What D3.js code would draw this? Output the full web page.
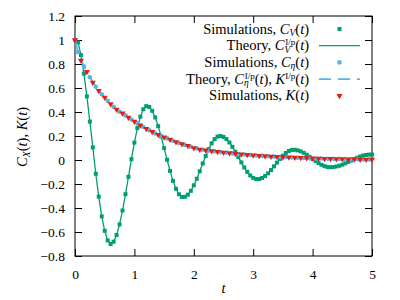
<!DOCTYPE html>
<html>
<head>
<meta charset="utf-8">
<script src="https://cdn.jsdelivr.net/npm/d3@7"></script>
<style>
  body { margin: 0; background: #fff; }
  svg text { font-family: "Liberation Serif", "Times New Roman", "DejaVu Serif", serif !important; fill: #000; }
</style>
</head>
<body>
<div id="chart"></div>
<script>
// sampling of the C_V curve (every 0.05 in t)
var cvStep = 0.05;
var cvValues = [1.0, 0.98, 0.875, 0.72, 0.53, 0.32, 0.105, -0.115, -0.305, -0.47,
    -0.59, -0.67, -0.70, -0.681, -0.625, -0.537, -0.421, -0.285, -0.14, 0.007,
    0.145, 0.266, 0.361, 0.423, 0.449, 0.442, 0.41, 0.355, 0.282, 0.195,
    0.099, 0.002, -0.091, -0.174, -0.24, -0.286, -0.308, -0.307, -0.289, -0.257,
    -0.211, -0.156, -0.094, -0.029, 0.033, 0.091, 0.139, 0.174, 0.195, 0.2,
    0.192, 0.174, 0.146, 0.11, 0.069, 0.024, -0.02, -0.062, -0.099, -0.129,
    -0.149, -0.159, -0.159, -0.15, -0.134, -0.111, -0.084, -0.053, -0.022, 0.009,
    0.036, 0.059, 0.075, 0.084, 0.085, 0.08, 0.072, 0.06, 0.044, 0.027,
    0.009, -0.009, -0.026, -0.04, -0.051, -0.058, -0.06, -0.059, -0.054, -0.048,
    -0.039, -0.028, -0.016, -0.004, 0.008, 0.019, 0.029, 0.037, 0.042, 0.045,
    0.045];

// K(t), every 0.1 in t
var kStep = 0.1;
var kValues = [1.0, 0.83, 0.735, 0.645, 0.578, 0.52, 0.467, 0.42, 0.39, 0.355,
    0.32, 0.29, 0.26, 0.235, 0.21, 0.19, 0.17, 0.15, 0.133, 0.118,
    0.1, 0.088, 0.081, 0.075, 0.069, 0.063, 0.058, 0.053, 0.048, 0.044,
    0.04, 0.036, 0.033, 0.03, 0.027, 0.024, 0.022, 0.02, 0.018, 0.016,
    0.014, 0.013, 0.011, 0.01, 0.009, 0.008, 0.007, 0.006, 0.005, 0.005,
    0.004];

// C_eta(t)
var etaTimes = [0, 0.05, 0.15, 0.25, 0.35, 0.45, 0.55, 0.65, 0.75, 0.85, 0.95,
    1.05, 1.15, 1.25, 1.35, 1.45, 1.55, 1.65, 1.75, 1.85, 1.95,
    2.05, 2.15, 2.25, 2.35, 2.45, 2.55, 2.65, 2.75, 2.85, 2.95,
    3.05, 3.15, 3.25, 3.35, 3.45, 3.55, 3.65, 3.75, 3.85, 3.95,
    4.05, 4.15, 4.25, 4.35, 4.45, 4.55, 4.65, 4.75, 4.85, 4.95];
var etaValues = [1.0, 0.9, 0.78, 0.69, 0.61, 0.548, 0.493, 0.443, 0.402, 0.372, 0.337,
    0.305, 0.275, 0.248, 0.222, 0.2, 0.18, 0.16, 0.141, 0.125, 0.11,
    0.097, 0.085, 0.078, 0.072, 0.066, 0.06, 0.055, 0.05, 0.046, 0.042,
    0.038, 0.034, 0.031, 0.028, 0.025, 0.023, 0.021, 0.019, 0.017, 0.015,
    0.013, 0.012, 0.011, 0.01, 0.009, 0.008, 0.007, 0.006, 0.005, 0.004];

var xTicks = [0, 1, 2, 3, 4, 5];
var yTicks = [-0.8, -0.6, -0.4, -0.2, 0, 0.2, 0.4, 0.6, 0.8, 1, 1.2];

var green = "#009e73", blue = "#56b4e9", red = "#e51e10";
var serif = "'Liberation Serif', 'Times New Roman', 'DejaVu Serif', serif";

var width = 400, height = 300,
    margin = { left: 75, right: 28, top: 16, bottom: 44 };

var cvData = cvValues.map(function(v, i){ return { t: i * cvStep, v: v }; });
var kData = kValues.map(function(v, i){ return { t: i * kStep, v: v }; });
var etaData = etaValues.map(function(v, i){ return { t: etaTimes[i], v: v }; });

var svg = d3.select("#chart").append("svg")
    .attr("width", width)
    .attr("height", height)
    .style("font-family", serif);

var x = d3.scaleLinear().domain([0, 5]).range([margin.left, width - margin.right]);
var y = d3.scaleLinear().domain([-0.8, 1.2]).range([height - margin.bottom, margin.top]);

var tickLen = 7;
function fmt(d){ return d < 0 ? "\u2212" + d3.format("")(-d) : d3.format("")(d); }

// axes, gnuplot style: ticks inward, mirrored
var axisB = d3.axisBottom(x).tickValues(xTicks).tickSize(-tickLen).tickPadding(13).tickFormat(fmt);
var axisL = d3.axisLeft(y).tickValues(yTicks).tickSize(-tickLen).tickPadding(10).tickFormat(fmt);
var axisT = d3.axisTop(x).tickValues(xTicks).tickSize(-tickLen).tickFormat("");
var axisR = d3.axisRight(y).tickValues(yTicks).tickSize(-tickLen).tickFormat("");

function styleAxis(g){
    g.attr("font-family", null);
    g.select(".domain").remove();
    g.selectAll("line").attr("stroke", "#000");
    g.selectAll("text").style("font-family", serif).style("font-size", "13.5px");
}

svg.append("g").attr("transform", "translate(0," + y(-0.8) + ")").call(axisB).call(styleAxis);
svg.append("g").attr("transform", "translate(" + x(0) + ",0)").call(axisL).call(styleAxis);
svg.append("g").attr("transform", "translate(0," + y(1.2) + ")").call(axisT).call(styleAxis);
svg.append("g").attr("transform", "translate(" + x(5) + ",0)").call(axisR).call(styleAxis);

svg.append("rect")
    .attr("x", x(0)).attr("y", y(1.2))
    .attr("width", x(5) - x(0)).attr("height", y(-0.8) - y(1.2))
    .attr("fill", "none").attr("stroke", "#000").attr("stroke-width", 1);

// axis titles
svg.append("text")
    .attr("x", (x(0) + x(5)) / 2).attr("y", 293)
    .attr("text-anchor", "middle").style("font-size", "14.5px").style("font-style", "italic")
    .text("t");

var yt = svg.append("text")
    .attr("transform", "translate(27," + 137 + ") rotate(-90)")
    .attr("text-anchor", "middle").style("font-size", "14.5px");
yt.append("tspan").style("font-style", "italic").text("C");
yt.append("tspan").style("font-style", "italic").style("font-size", "10px").attr("dy", 3).text("X");
yt.append("tspan").attr("dy", -3).text("(");
yt.append("tspan").style("font-style", "italic").text("t");
yt.append("tspan").text("), ");
yt.append("tspan").style("font-style", "italic").text("K");
yt.append("tspan").text("(");
yt.append("tspan").style("font-style", "italic").text("t");
yt.append("tspan").text(")");

var plot = svg.append("g");

var line = d3.line()
    .x(function(d){ return x(d.t); })
    .y(function(d){ return y(d.v); });

var triangle = d3.symbol().type(d3.symbolTriangle).size(16);

// C_V theory + simulations
plot.append("path").datum(cvData)
    .attr("d", line).attr("fill", "none").attr("stroke", green).attr("stroke-width", 1.3);
plot.selectAll(".sq").data(cvData).enter().append("rect")
    .attr("class", "sq")
    .attr("x", function(d){ return x(d.t) - 2; })
    .attr("y", function(d){ return y(d.v) - 2; })
    .attr("width", 4).attr("height", 4)
    .attr("fill", green);

// C_eta theory + simulations
plot.append("path").datum(etaData)
    .attr("d", line).attr("fill", "none").attr("stroke", blue)
    .attr("stroke-width", 1.6).attr("stroke-dasharray", "12,7");
plot.selectAll(".dot").data(etaData).enter().append("circle")
    .attr("class", "dot")
    .attr("cx", function(d){ return x(d.t); })
    .attr("cy", function(d){ return y(d.v); })
    .attr("r", 2.3)
    .attr("fill", blue);

// K(t)
plot.selectAll(".tri").data(kData).enter().append("path")
    .attr("class", "tri")
    .attr("d", triangle)
    .attr("transform", function(d){ return "translate(" + x(d.t) + "," + y(d.v) + ") rotate(180)"; })
    .attr("fill", red);

// legend
var legendRows = [
    { label: "Simulations, ", kind: "sq" },
    { label: "Theory, ", kind: "line" },
    { label: "Simulations, ", kind: "dot" },
    { label: "Theory, ", kind: "dash" },
    { label: "Simulations, ", kind: "tri" }
];
var legend = svg.append("g").style("font-size", "14.5px");
var textRight = 309, sampleX0 = 319, sampleX1 = 360, rowY0 = 29, rowDy = 16.7;

legendRows.forEach(function(r, i){
    var cy = rowY0 + i * rowDy;
    var t = legend.append("text")
        .attr("x", textRight).attr("y", cy + 4.5)
        .attr("text-anchor", "end");
    t.append("tspan").text(r.label);
    function it(s){ t.append("tspan").style("font-style", "italic").text(s); }
    function rm(s){ t.append("tspan").text(s); }
    function sub(s){ t.append("tspan").style("font-style", "italic").style("font-size", "9.5px").attr("dy", 2.5).text(s); }
    function sup(s, back){ t.append("tspan").style("font-size", "9px").attr("dx", back || 0).attr("dy", -7.5).text(s); }
    if (i === 0) { it("C"); sub("V"); t.append("tspan").attr("dy", -2.5).text("("); it("t"); rm(")"); }
    if (i === 1) { it("C"); sub("V"); sup("I/p", -5); t.append("tspan").attr("dy", 5).text("("); it("t"); rm(")"); }
    if (i === 2) { it("C"); sub("\u03b7"); t.append("tspan").attr("dy", -2.5).text("("); it("t"); rm(")"); }
    if (i === 3) {
        it("C"); sub("\u03b7"); sup("I/p", -4); t.append("tspan").attr("dy", 5).text("("); it("t"); rm("), ");
        it("K"); t.append("tspan").style("font-size", "9px").attr("dy", -5).text("I/p");
        t.append("tspan").attr("dy", 5).text("("); it("t"); rm(")");
    }
    if (i === 4) { it("K"); rm("("); it("t"); rm(")"); }

    var mid = (sampleX0 + sampleX1) / 2;
    if (r.kind === "sq") legend.append("rect").attr("x", mid - 2).attr("y", cy - 2).attr("width", 4).attr("height", 4).attr("fill", green);
    if (r.kind === "line") legend.append("line").attr("x1", sampleX0).attr("x2", sampleX1).attr("y1", cy).attr("y2", cy).attr("stroke", green).attr("stroke-width", 1.3);
    if (r.kind === "dot") legend.append("circle").attr("cx", mid).attr("cy", cy).attr("r", 2.3).attr("fill", blue);
    if (r.kind === "dash") legend.append("line").attr("x1", sampleX0).attr("x2", sampleX1).attr("y1", cy).attr("y2", cy).attr("stroke", blue).attr("stroke-width", 1.6).attr("stroke-dasharray", "12,7");
    if (r.kind === "tri") legend.append("path").attr("d", triangle).attr("transform", "translate(" + mid + "," + cy + ") rotate(180)").attr("fill", red);
});
</script>
</body>
</html>
